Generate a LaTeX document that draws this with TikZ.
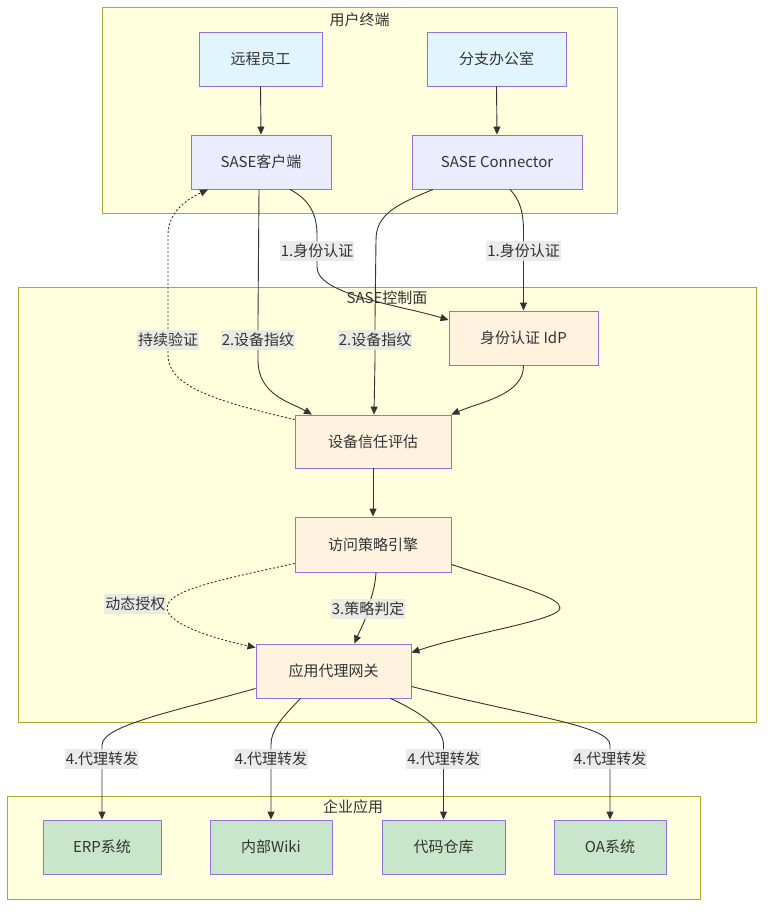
\documentclass[tikz,border=0pt]{standalone}
\usepackage{fontspec}
\setmainfont{Noto Sans CJK SC}
\usetikzlibrary{arrows.meta}
\definecolor{clf}{HTML}{FFFFDE}
\definecolor{clb}{HTML}{AAAA33}
\definecolor{nodef}{HTML}{ECECFF}
\definecolor{nodeb}{HTML}{9370DB}
\definecolor{bluef}{HTML}{E1F5FE}
\definecolor{peachf}{HTML}{FFF3E0}
\definecolor{greenf}{HTML}{C8E6C9}
\definecolor{edg}{HTML}{333333}
\definecolor{txt}{HTML}{333333}
\definecolor{lblbg}{HTML}{E8E8E8}
\begin{document}
\begin{tikzpicture}[x=1pt,y=-1pt,
  font=\fontsize{15}{18}\selectfont,
  box/.style={draw=nodeb, fill=nodef, line width=0.9pt, minimum height=54pt, inner sep=0pt, text=txt},
  bluebox/.style={box, fill=bluef},
  peachbox/.style={box, fill=peachf},
  greenbox/.style={box, fill=greenf},
  cluster/.style={draw=clb, fill=clf, line width=0.9pt},
  ctitle/.style={text=txt, inner sep=0pt},
  edge/.style={draw=edg, line width=0.9pt, -{Triangle[length=8pt,width=7pt]}},
  dotedge/.style={edge, dash pattern=on 2pt off 2pt},
  lbl/.style={fill=lblbg, fill opacity=0.85, text opacity=1, inner xsep=1pt, inner ysep=3pt, text=txt}]
\fill[white] (0,0) rectangle (770,916);
\useasboundingbox (0,0) rectangle (770,916);
% clusters
\draw[cluster] (102,7) rectangle (617,213);
\node[ctitle] (t1) at (359.5,20) {用户终端};
\draw[cluster] (18,287) rectangle (756,722);
\node[ctitle] (t2) at (387,298) {SASE控制面};
\draw[cluster] (7,796) rectangle (700,899);
\node[ctitle] (t3) at (353,807) {企业应用};
% nodes
\node[bluebox, minimum width=123pt] (re) at (260.5,59) {远程员工};
\node[bluebox, minimum width=139pt] (br) at (496.5,59) {分支办公室};
\node[box, minimum width=140pt] (ck) at (261,162) {SASE客户端};
\node[box, minimum width=170pt] (con) at (497,162) {SASE Connector};
\node[peachbox, minimum width=149pt] (idp) at (523.5,338) {身份认证 IdP};
\node[peachbox, minimum width=156pt, minimum height=53pt] (dte) at (373,441.5) {设备信任评估};
\node[peachbox, minimum width=156pt, minimum height=55pt] (ape) at (373,544.5) {访问策略引擎};
\node[peachbox, minimum width=155pt] (gw) at (333.5,671) {应用代理网关};
\node[greenbox, minimum width=118pt] (erp) at (102,847) {ERP系统};
\node[greenbox, minimum width=122pt] (wiki) at (271,847) {内部Wiki};
\node[greenbox, minimum width=123pt] (code) at (443.5,847) {代码仓库};
\node[greenbox, minimum width=112pt] (oa) at (610,847) {OA系统};
% edges
\draw[edge] (re.south) -- (ck.north);
\draw[edge] (br.south) -- (con.north);
\draw[edge] ([xshift=29pt]ck.south) .. controls (310,200) and (317,215) .. (317,235)
  -- node[lbl] {1.身份认证} (317,267) .. controls (317,295) and (400,305) .. ([yshift=18pt]idp.west);
\draw[edge] ([xshift=13pt]con.south) .. controls (520,200) and (523.5,212) .. (523.5,232)
  -- node[lbl] {1.身份认证} (523.5,270) -- (idp.north);
\draw[edge] ([xshift=-2pt]ck.south) -- (258,320) -- node[lbl] {2.设备指纹} (258,360)
  .. controls (258,395) and (290,402) .. ([xshift=-61pt]dte.north);
\draw[edge] ([xshift=-64pt]con.south) .. controls (395,205) and (376,215) .. (376,240)
  -- (375,320) -- node[lbl] {2.设备指纹} (375,360) -- ([xshift=1pt]dte.north);
\draw[edge] (idp.south) .. controls (524,395) and (480,402) .. (dte.north east);
\draw[dotedge] ([yshift=-5pt]dte.north west) .. controls (210,400) and (168,385) .. (168,355)
  -- node[lbl] {持续验证} (168,325) -- (168,235) .. controls (168,210) and (190,198) .. ([xshift=-53pt]ck.south);
\draw[edge] (dte.south) -- (ape.north);
\draw[edge] ([xshift=3pt]ape.south) .. controls (375,590) and (370,600) .. (368,609)
  node[lbl] {3.策略判定} .. controls (366,620) and (360,630) .. ([xshift=21pt]gw.north);
\draw[edge] ([yshift=8pt]ape.south east) .. controls (530,590) and (560,598) .. (560,608)
  .. controls (560,620) and (470,633) .. ([yshift=-9pt]gw.north east);
\draw[dotedge] ([yshift=9pt]ape.south west) .. controls (220,580) and (167,590) .. (167,608)
  .. controls (167,625) and (220,640) .. ([yshift=-4pt]gw.north west);
\node[lbl, anchor=east] (dl) at (166.5,604) {动态授权};
\draw[edge] ([yshift=10pt]gw.south west) .. controls (180,710) and (102,725) .. (102,745)
  -- node[lbl] {4.代理转发} (102,773) -- (erp.north);
\draw[edge] ([xshift=-33pt]gw.south) .. controls (285,715) and (271,728) .. (271,745)
  -- node[lbl] {4.代理转发} (271,773) -- (wiki.north);
\draw[edge] ([xshift=57pt]gw.south) .. controls (420,712) and (443.5,728) .. (443.5,745)
  -- node[lbl] {4.代理转发} (443.5,773) -- (code.north);
\draw[edge] ([yshift=12pt]gw.south east) .. controls (520,715) and (610,725) .. (610,745)
  -- node[lbl] {4.代理转发} (610,773) -- (oa.north);
\end{tikzpicture}
\end{document}
